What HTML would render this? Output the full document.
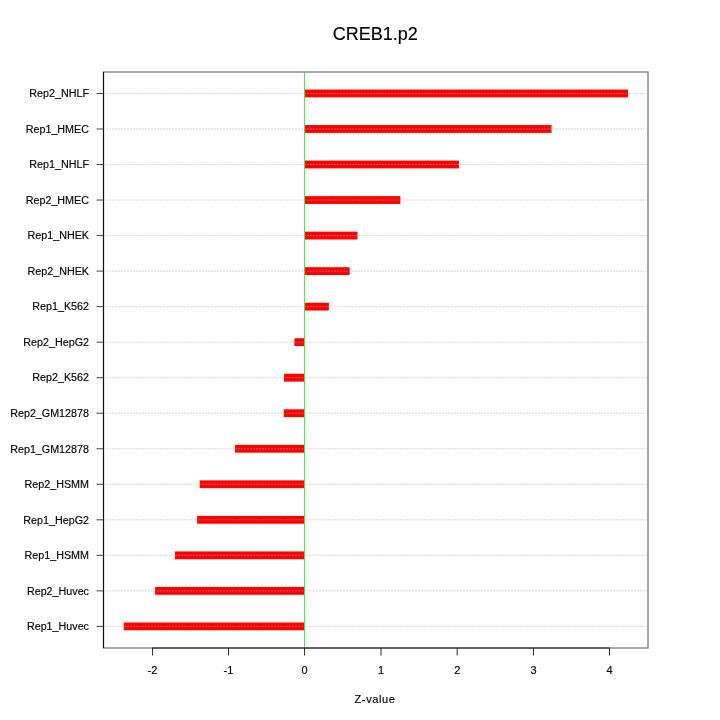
<!DOCTYPE html>
<html><head><meta charset="utf-8"><style>
html,body{margin:0;padding:0;background:#fff;}
svg{display:block;will-change:transform;font-family:"Liberation Sans",sans-serif;}
text{fill:#000;stroke:#000;stroke-width:0.15px;}
</style></head><body>
<svg width="720" height="720" viewBox="0 0 720 720">
<rect width="720" height="720" fill="#fff"/>
<rect x="304.55" y="89.55" width="323.45" height="7.80" fill="#ff0000"/>
<rect x="304.55" y="125.08" width="246.95" height="7.80" fill="#ff0000"/>
<rect x="304.55" y="160.61" width="154.45" height="7.80" fill="#ff0000"/>
<rect x="304.55" y="196.14" width="95.85" height="7.80" fill="#ff0000"/>
<rect x="304.55" y="231.67" width="52.95" height="7.80" fill="#ff0000"/>
<rect x="304.55" y="267.20" width="45.15" height="7.80" fill="#ff0000"/>
<rect x="304.55" y="302.73" width="24.35" height="7.80" fill="#ff0000"/>
<rect x="294.40" y="338.26" width="10.15" height="7.80" fill="#ff0000"/>
<rect x="284.00" y="373.79" width="20.55" height="7.80" fill="#ff0000"/>
<rect x="283.75" y="409.32" width="20.80" height="7.80" fill="#ff0000"/>
<rect x="235.00" y="444.85" width="69.55" height="7.80" fill="#ff0000"/>
<rect x="199.70" y="480.38" width="104.85" height="7.80" fill="#ff0000"/>
<rect x="197.10" y="515.91" width="107.45" height="7.80" fill="#ff0000"/>
<rect x="174.90" y="551.44" width="129.65" height="7.80" fill="#ff0000"/>
<rect x="155.10" y="586.97" width="149.45" height="7.80" fill="#ff0000"/>
<rect x="123.70" y="622.50" width="180.85" height="7.80" fill="#ff0000"/>
<line x1="103" y1="93.45" x2="647.5" y2="93.45" stroke="#b0b0b0" stroke-opacity="0.5" stroke-width="1" stroke-dasharray="2 1"/>
<line x1="103" y1="128.98" x2="647.5" y2="128.98" stroke="#b0b0b0" stroke-opacity="0.5" stroke-width="1" stroke-dasharray="2 1"/>
<line x1="103" y1="164.51" x2="647.5" y2="164.51" stroke="#b0b0b0" stroke-opacity="0.5" stroke-width="1" stroke-dasharray="2 1"/>
<line x1="103" y1="200.04" x2="647.5" y2="200.04" stroke="#b0b0b0" stroke-opacity="0.5" stroke-width="1" stroke-dasharray="2 1"/>
<line x1="103" y1="235.57" x2="647.5" y2="235.57" stroke="#b0b0b0" stroke-opacity="0.5" stroke-width="1" stroke-dasharray="2 1"/>
<line x1="103" y1="271.10" x2="647.5" y2="271.10" stroke="#b0b0b0" stroke-opacity="0.5" stroke-width="1" stroke-dasharray="2 1"/>
<line x1="103" y1="306.63" x2="647.5" y2="306.63" stroke="#b0b0b0" stroke-opacity="0.5" stroke-width="1" stroke-dasharray="2 1"/>
<line x1="103" y1="342.16" x2="647.5" y2="342.16" stroke="#b0b0b0" stroke-opacity="0.5" stroke-width="1" stroke-dasharray="2 1"/>
<line x1="103" y1="377.69" x2="647.5" y2="377.69" stroke="#b0b0b0" stroke-opacity="0.5" stroke-width="1" stroke-dasharray="2 1"/>
<line x1="103" y1="413.22" x2="647.5" y2="413.22" stroke="#b0b0b0" stroke-opacity="0.5" stroke-width="1" stroke-dasharray="2 1"/>
<line x1="103" y1="448.75" x2="647.5" y2="448.75" stroke="#b0b0b0" stroke-opacity="0.5" stroke-width="1" stroke-dasharray="2 1"/>
<line x1="103" y1="484.28" x2="647.5" y2="484.28" stroke="#b0b0b0" stroke-opacity="0.5" stroke-width="1" stroke-dasharray="2 1"/>
<line x1="103" y1="519.81" x2="647.5" y2="519.81" stroke="#b0b0b0" stroke-opacity="0.5" stroke-width="1" stroke-dasharray="2 1"/>
<line x1="103" y1="555.34" x2="647.5" y2="555.34" stroke="#b0b0b0" stroke-opacity="0.5" stroke-width="1" stroke-dasharray="2 1"/>
<line x1="103" y1="590.87" x2="647.5" y2="590.87" stroke="#b0b0b0" stroke-opacity="0.5" stroke-width="1" stroke-dasharray="2 1"/>
<line x1="103" y1="626.40" x2="647.5" y2="626.40" stroke="#b0b0b0" stroke-opacity="0.5" stroke-width="1" stroke-dasharray="2 1"/>
<line x1="304.55" y1="72" x2="304.55" y2="648" stroke="#3ef03e" stroke-width="1"/>
<rect x="103.5" y="72" width="544.5" height="576" fill="none" stroke="#8c8c8c" stroke-width="1.5"/>
<line x1="103.5" y1="72" x2="103.5" y2="648" stroke="#111" stroke-width="1"/>
<line x1="96.5" y1="93.45" x2="103.5" y2="93.45" stroke="#444" stroke-width="1"/>
<text x="89" y="97.25" text-anchor="end" font-size="11" transform="matrix(0.978 0 0 1 1.958 0)">Rep2_NHLF</text>
<line x1="96.5" y1="128.98" x2="103.5" y2="128.98" stroke="#444" stroke-width="1"/>
<text x="89" y="132.78" text-anchor="end" font-size="11" transform="matrix(0.978 0 0 1 1.958 0)">Rep1_HMEC</text>
<line x1="96.5" y1="164.51" x2="103.5" y2="164.51" stroke="#444" stroke-width="1"/>
<text x="89" y="168.31" text-anchor="end" font-size="11" transform="matrix(0.978 0 0 1 1.958 0)">Rep1_NHLF</text>
<line x1="96.5" y1="200.04" x2="103.5" y2="200.04" stroke="#444" stroke-width="1"/>
<text x="89" y="203.84" text-anchor="end" font-size="11" transform="matrix(0.978 0 0 1 1.958 0)">Rep2_HMEC</text>
<line x1="96.5" y1="235.57" x2="103.5" y2="235.57" stroke="#444" stroke-width="1"/>
<text x="89" y="239.37" text-anchor="end" font-size="11" transform="matrix(0.978 0 0 1 1.958 0)">Rep1_NHEK</text>
<line x1="96.5" y1="271.10" x2="103.5" y2="271.10" stroke="#444" stroke-width="1"/>
<text x="89" y="274.90" text-anchor="end" font-size="11" transform="matrix(0.978 0 0 1 1.958 0)">Rep2_NHEK</text>
<line x1="96.5" y1="306.63" x2="103.5" y2="306.63" stroke="#444" stroke-width="1"/>
<text x="89" y="310.43" text-anchor="end" font-size="11" transform="matrix(0.978 0 0 1 1.958 0)">Rep1_K562</text>
<line x1="96.5" y1="342.16" x2="103.5" y2="342.16" stroke="#444" stroke-width="1"/>
<text x="89" y="345.96" text-anchor="end" font-size="11" transform="matrix(0.978 0 0 1 1.958 0)">Rep2_HepG2</text>
<line x1="96.5" y1="377.69" x2="103.5" y2="377.69" stroke="#444" stroke-width="1"/>
<text x="89" y="381.49" text-anchor="end" font-size="11" transform="matrix(0.978 0 0 1 1.958 0)">Rep2_K562</text>
<line x1="96.5" y1="413.22" x2="103.5" y2="413.22" stroke="#444" stroke-width="1"/>
<text x="89" y="417.02" text-anchor="end" font-size="11" transform="matrix(0.978 0 0 1 1.958 0)">Rep2_GM12878</text>
<line x1="96.5" y1="448.75" x2="103.5" y2="448.75" stroke="#444" stroke-width="1"/>
<text x="89" y="452.55" text-anchor="end" font-size="11" transform="matrix(0.978 0 0 1 1.958 0)">Rep1_GM12878</text>
<line x1="96.5" y1="484.28" x2="103.5" y2="484.28" stroke="#444" stroke-width="1"/>
<text x="89" y="488.08" text-anchor="end" font-size="11" transform="matrix(0.978 0 0 1 1.958 0)">Rep2_HSMM</text>
<line x1="96.5" y1="519.81" x2="103.5" y2="519.81" stroke="#444" stroke-width="1"/>
<text x="89" y="523.61" text-anchor="end" font-size="11" transform="matrix(0.978 0 0 1 1.958 0)">Rep1_HepG2</text>
<line x1="96.5" y1="555.34" x2="103.5" y2="555.34" stroke="#444" stroke-width="1"/>
<text x="89" y="559.14" text-anchor="end" font-size="11" transform="matrix(0.978 0 0 1 1.958 0)">Rep1_HSMM</text>
<line x1="96.5" y1="590.87" x2="103.5" y2="590.87" stroke="#444" stroke-width="1"/>
<text x="89" y="594.67" text-anchor="end" font-size="11" transform="matrix(0.978 0 0 1 1.958 0)">Rep2_Huvec</text>
<line x1="96.5" y1="626.40" x2="103.5" y2="626.40" stroke="#444" stroke-width="1"/>
<text x="89" y="630.20" text-anchor="end" font-size="11" transform="matrix(0.978 0 0 1 1.958 0)">Rep1_Huvec</text>
<line x1="152.5" y1="648" x2="609.5" y2="648" stroke="#4a4a4a" stroke-width="1.5" stroke-linecap="round"/>
<line x1="152.5" y1="648" x2="152.5" y2="655.5" stroke="#2a2a2a" stroke-width="1"/>
<text x="152.5" y="674" text-anchor="middle" font-size="11">-2</text>
<line x1="228.5" y1="648" x2="228.5" y2="655.5" stroke="#2a2a2a" stroke-width="1"/>
<text x="228.5" y="674" text-anchor="middle" font-size="11">-1</text>
<line x1="304.5" y1="648" x2="304.5" y2="655.5" stroke="#2a2a2a" stroke-width="1"/>
<text x="304.5" y="674" text-anchor="middle" font-size="11">0</text>
<line x1="381" y1="648" x2="381" y2="655.5" stroke="#2a2a2a" stroke-width="1"/>
<text x="381" y="674" text-anchor="middle" font-size="11">1</text>
<line x1="457.2" y1="648" x2="457.2" y2="655.5" stroke="#2a2a2a" stroke-width="1"/>
<text x="457.2" y="674" text-anchor="middle" font-size="11">2</text>
<line x1="533.5" y1="648" x2="533.5" y2="655.5" stroke="#2a2a2a" stroke-width="1"/>
<text x="533.5" y="674" text-anchor="middle" font-size="11">3</text>
<line x1="609.5" y1="648" x2="609.5" y2="655.5" stroke="#2a2a2a" stroke-width="1"/>
<text x="609.5" y="674" text-anchor="middle" font-size="11">4</text>
<text x="375" y="702.8" text-anchor="middle" font-size="11" letter-spacing="0.6">Z-value</text>
<text x="375.3" y="39.5" text-anchor="middle" font-size="18">CREB1.p2</text>
</svg>
</body></html>
